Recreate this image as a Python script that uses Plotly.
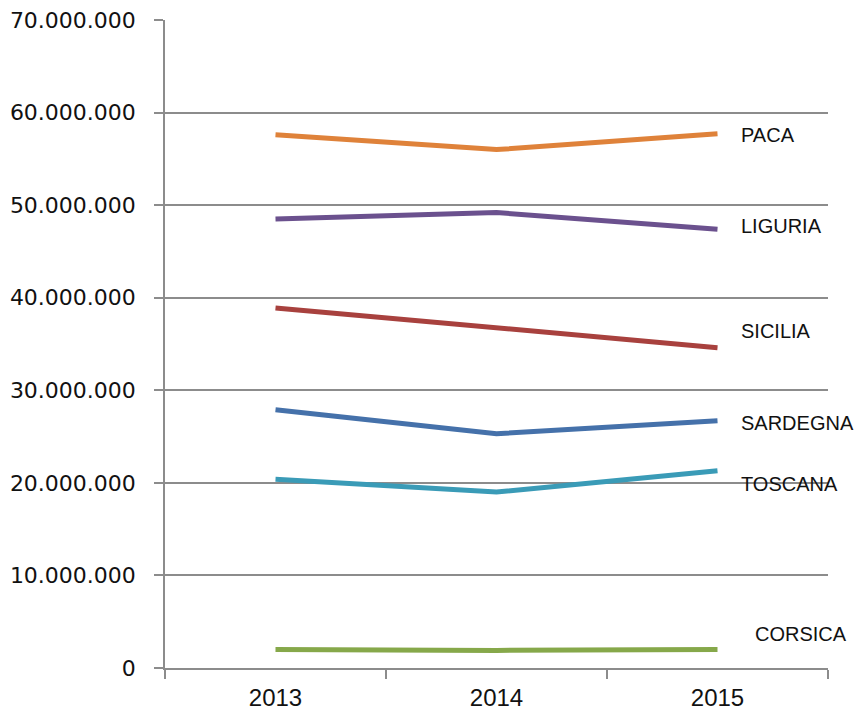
import plotly.graph_objects as go

years = ["2013", "2014", "2015"]
regions = ["PACA", "LIGURIA", "SICILIA", "SARDEGNA", "TOSCANA", "CORSICA"]
paca = [57600000, 56000000, 57700000]
liguria = [48500000, 49200000, 47400000]
sicilia = [38900000, 36700000, 34600000]
sardegna = [27900000, 25300000, 26700000]
toscana = [20400000, 19000000, 21300000]
corsica = [2000000, 1900000, 2000000]
y_ticks = [0, 10000000, 20000000, 30000000, 40000000, 50000000, 60000000, 70000000]
y_tick_labels = ["0", "10.000.000", "20.000.000", "30.000.000", "40.000.000",
                 "50.000.000", "60.000.000", "70.000.000"]

series = [paca, liguria, sicilia, sardegna, toscana, corsica]
colors = ["#DF823A", "#6B518E", "#A8413E", "#4571AA", "#3A9BB7", "#86A84A"]
label_y = [57600000, 47750000, 36400000, 26450000, 19900000, 3700000]
label_x_off = [21, 21, 21, 21, 21, 35]

fig = go.Figure()
for name, vals, c in zip(regions, series, colors):
    fig.add_trace(go.Scatter(x=years, y=vals, mode="lines", name=name,
                             line=dict(color=c, width=5)))

last_idx = len(years) - 1
for name, ly, xo in zip(regions, label_y, label_x_off):
    fig.add_annotation(x=last_idx, y=ly, text=name, showarrow=False,
                       xref="x", yref="y",
                       xanchor="left", yanchor="middle", xshift=xo,
                       font=dict(family="Liberation Sans Narrow, Liberation Sans, Arial, sans-serif",
                                 size=20, color="#111111"))

fig.update_layout(
    width=862, height=715,
    margin=dict(l=157, r=42, t=12, b=55),
    plot_bgcolor="white", paper_bgcolor="white",
    showlegend=False,
    xaxis=dict(type="category", range=[-0.5, 2.5], tickson="boundaries",
               ticks="outside", ticklen=9, tickcolor="#8c8c8c", tickwidth=1.5,
               showline=True, linecolor="#8c8c8c", linewidth=1.5,
               showgrid=False, automargin=False, ticklabelstandoff=7,
               tickfont=dict(family="Liberation Sans Narrow, Liberation Sans, Arial, sans-serif",
                             size=24, color="#111111")),
    yaxis=dict(range=[0, 70000000], tickvals=y_ticks, ticktext=y_tick_labels,
               ticks="outside", ticklen=9, tickcolor="#8c8c8c", tickwidth=1.5,
               showline=True, linecolor="#8c8c8c", linewidth=1.5,
               showgrid=True, gridcolor="#8c8c8c", gridwidth=1.5,
               zeroline=False, automargin=False, ticklabeloverflow="allow",
               ticklabelstandoff=14,
               tickfont=dict(family="DejaVu Sans, sans-serif",
                             size=22, color="#111111")),
)

fig.write_html("out.html")
